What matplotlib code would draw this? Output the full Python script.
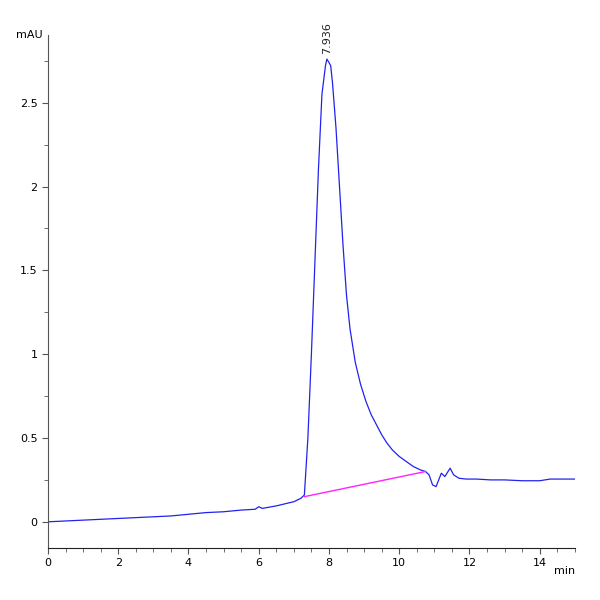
import matplotlib
matplotlib.use("Agg")
import matplotlib.pyplot as plt
from matplotlib.ticker import MultipleLocator

time_min = [0, 0.5, 1, 1.5, 2, 2.5, 3, 3.5, 4, 4.5, 5, 5.5, 5.9, 6.0, 6.1, 6.5, 7.0, 7.2, 7.3,
            7.4, 7.5, 7.6, 7.7, 7.8, 7.9, 7.94, 8.0, 8.05, 8.1, 8.2, 8.3, 8.4, 8.5, 8.6, 8.75,
            8.9, 9.05, 9.2, 9.35, 9.5, 9.65, 9.8, 10.0, 10.2, 10.4, 10.6, 10.75, 10.85, 10.95,
            11.05, 11.2, 11.3, 11.45, 11.55, 11.7, 11.9, 12.2, 12.6, 13.0, 13.5, 14.0, 14.3, 14.6, 15.0]
signal = [0.0, 0.005, 0.01, 0.015, 0.02, 0.025, 0.03, 0.035, 0.045, 0.055, 0.06, 0.07, 0.075, 0.09, 0.08, 0.095, 0.12, 0.14, 0.16,
          0.5, 1.0, 1.55, 2.1, 2.55, 2.72, 2.76, 2.74, 2.72, 2.62, 2.35, 2.0, 1.65, 1.35, 1.15, 0.95,
          0.82, 0.72, 0.64, 0.58, 0.52, 0.47, 0.43, 0.39, 0.36, 0.33, 0.31, 0.30, 0.28, 0.22,
          0.21, 0.29, 0.27, 0.32, 0.28, 0.26, 0.255, 0.255, 0.25, 0.25, 0.245, 0.245, 0.255, 0.255, 0.255]
base_t = [7.3, 10.75]
base_y = [0.15, 0.30]
peak_t = 7.936
peak_y = 2.76
peak_label = "7.936"

fig = plt.figure(figsize=(6, 6), dpi=100)
ax = fig.add_axes([0.08, 0.087, 0.878, 0.855])
ax.plot(time_min, signal, color="#2222ee", lw=0.9)
ax.plot(base_t, base_y, color="#ff22ff", lw=1.0)
ax.text(peak_t, peak_y + 0.03, peak_label, rotation=90, ha="center", va="bottom", fontsize=8, color="#222222")
ax.set_xlim(0, 15)
ax.set_ylim(-0.155, 2.905)
ax.xaxis.set_major_locator(MultipleLocator(2))
ax.xaxis.set_minor_locator(MultipleLocator(0.5))
ax.yaxis.set_major_locator(MultipleLocator(0.5))
ax.yaxis.set_minor_locator(MultipleLocator(0.25))
ax.set_yticks([0, 0.5, 1, 1.5, 2, 2.5])
ax.set_yticklabels(["0", "0.5", "1", "1.5", "2", "2.5"])
for s in ["top", "right"]:
    ax.spines[s].set_visible(False)
ax.spines["left"].set_color("#555555")
ax.spines["bottom"].set_color("#222222")
ax.tick_params(labelsize=8, length=4, color="#555555")
ax.tick_params(which="minor", length=3, color="#555555")
ax.text(1.0, -0.035, "min", transform=ax.transAxes, ha="right", va="top", fontsize=8)
ax.text(-0.01, 1.0, "mAU", transform=ax.transAxes, ha="right", va="center", fontsize=8)
fig.savefig("out.png", dpi=100)
